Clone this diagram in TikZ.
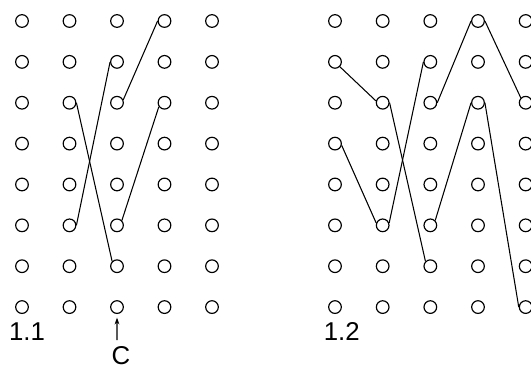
\documentclass[tikz,border=0pt]{standalone}
\usepackage{fontspec}
\setmainfont{Liberation Sans}
\usetikzlibrary{arrows.meta}

\begin{document}
\begin{tikzpicture}[
    ring/.style={circle, draw, line width=1pt, minimum size=0.38cm, inner sep=0pt},
    thread/.style={line width=0.9pt},
    tag/.style={font=\fontsize{22}{24}\selectfont, inner sep=0pt},
    arrow/.style={{Stealth[length=6pt,width=4pt]}-, line width=0.9pt}
]
    \useasboundingbox (0,0) rectangle (15.93,-11.07);

    % Two grids of holes
    \foreach \c in {0,...,4}
      \foreach \r in {0,...,7} {
        \node[ring] (a-\c-\r) at ({0.66+1.425*\c},{-0.63-1.226*\r}) {};
        \node[ring] (b-\c-\r) at ({10.05+1.43*\c},{-0.63-1.226*\r}) {};
      }

    % Labels
    \node[tag] (lab1) at (0.81,-9.96) {1.1};
    \node[tag] (lab2) at (10.25,-9.93) {1.2};
    \node[tag] (c) at (3.63,-10.67) {C};
    \coordinate (tail) at (3.51,-10.2);
    \draw[arrow, shorten <=3pt] (a-2-7) -- (tail);

    % Threads 1.1
    \draw[thread] (a-3-0.west) -- (a-2-2.25);
    \draw[thread] (a-2-1.west) -- (a-1-5.east);
    \draw[thread] (a-1-2.east) -- (a-2-6.north west);
    \draw[thread] (a-3-2.215) -- (a-2-5.north east);

    % Threads 1.2
    \draw[thread] (b-0-1.south east) -- (b-1-2.165);
    \draw[thread] (b-1-2.east) -- (b-2-6.north west);
    \draw[thread] (b-0-3.345) -- (b-1-5.160);
    \draw[thread] (b-1-5.20) -- (b-2-1.west);
    \draw[thread] (b-2-2.east) -- (b-3-0.west);
    \draw[thread] (b-3-0.east) -- (b-4-2.north west);
    \draw[thread] (b-2-5.north east) -- (b-3-2.west);
    \draw[thread] (b-3-2.east) -- (b-4-7.west);
\end{tikzpicture}
\end{document}
